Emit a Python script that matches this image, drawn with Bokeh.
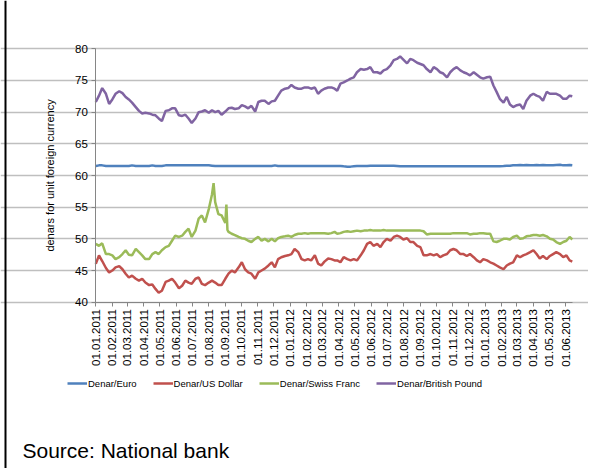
import numpy as np
import pandas as pd
from bokeh.plotting import figure
from bokeh.models import (Range1d, FixedTicker, DatetimeTickFormatter, Legend, LegendItem,
                          Label, BoxAnnotation)
from bokeh.embed import file_html
from bokeh.resources import INLINE
import math

# ---------------- data ----------------
start_date = "2011-01-01"
# sample positions (days after 01.01.2011)
days = [0, 6, 12, 19, 25, 31, 37, 44, 50, 56, 62, 68, 75, 81, 87, 93, 100, 106, 112, 118,
        124, 131, 137, 143, 149, 156, 162, 168, 174, 180, 187, 193, 199, 205, 212, 218, 224, 230, 236, 243,
        249, 255, 261, 268, 274, 280, 286, 292, 299, 305, 311, 317, 324, 330, 336, 342, 348, 355, 361, 367,
        373, 380, 386, 392, 398, 404, 411, 417, 423, 429, 436, 442, 448,
        453, 459, 465, 472, 478, 484, 490, 497, 503, 509, 515, 521, 528, 534, 540, 546, 553, 559, 565, 571,
        577, 584, 590, 596, 603, 609, 615, 621, 628, 634, 640, 646, 652, 659, 665, 671, 677, 684, 690, 696,
        702, 709, 715, 721, 727, 734, 740, 746, 752, 758, 765, 771, 777, 783, 790, 796, 802, 808, 815, 821,
        827, 833, 839, 846, 852, 858, 864, 871, 877, 883, 889, 894]

eur = [61.5, 61.6, 61.6, 61.5, 61.5, 61.5, 61.5, 61.5, 61.5, 61.5,
       61.5, 61.6, 61.5, 61.5, 61.5, 61.5, 61.5, 61.6, 61.5, 61.5,
       61.5, 61.6, 61.6, 61.6, 61.6, 61.6, 61.6, 61.6, 61.6, 61.6,
       61.6, 61.6, 61.6, 61.6, 61.6, 61.55, 61.5, 61.5, 61.5, 61.5,
       61.5, 61.5, 61.5, 61.5, 61.5, 61.5, 61.5, 61.5, 61.5, 61.5,
       61.5, 61.5, 61.5, 61.5, 61.6, 61.5, 61.5, 61.5, 61.5, 61.5,
       61.5, 61.5, 61.5, 61.5, 61.5, 61.5, 61.5, 61.5, 61.5, 61.5,
       61.5, 61.5, 61.5,
       61.5, 61.5, 61.45, 61.4, 61.4, 61.45, 61.5, 61.5, 61.5, 61.5,
       61.55, 61.55, 61.55, 61.55, 61.55, 61.55, 61.55, 61.55, 61.5, 61.45,
       61.45, 61.45, 61.45, 61.45, 61.45, 61.45, 61.45, 61.45, 61.45, 61.45,
       61.45, 61.45, 61.45, 61.45, 61.45, 61.45, 61.45, 61.45, 61.45, 61.45,
       61.45, 61.45, 61.45, 61.45, 61.45, 61.45, 61.45, 61.45, 61.45, 61.45,
       61.5, 61.55, 61.55, 61.6, 61.6, 61.65, 61.6, 61.65, 61.6, 61.6,
       61.65, 61.6, 61.65, 61.6, 61.6, 61.6, 61.65, 61.7, 61.6, 61.6,
       61.65, 61.6]

usd = [46.05, 47.4, 46.5, 45.4, 44.7, 45.0, 45.5, 45.7, 45.2, 44.5,
       43.9, 44.2, 43.7, 43.4, 43.7, 43.1, 42.7, 42.8, 42.1, 41.5,
       41.8, 43.2, 43.4, 43.7, 43.1, 42.2, 42.6, 43.4, 43.1, 42.9,
       43.7, 43.9, 42.9, 42.7, 43.1, 43.4, 43.1, 42.7, 42.7, 43.7,
       44.5, 45.0, 44.7, 45.5, 46.3, 45.2, 44.7, 44.5, 43.7, 44.7,
       45.0, 45.3, 45.8, 46.3, 45.5, 46.8, 47.1, 47.3, 47.4, 47.6,
       48.4, 47.9, 46.8, 46.6, 46.8, 46.6, 47.4, 46.1, 45.8, 46.4,
       46.9, 46.8, 46.6,
       46.6, 46.3, 47.1, 46.8, 46.6, 46.8, 46.6, 47.4, 48.2, 49.2,
       49.5, 48.9, 49.2, 48.7, 49.5, 50.0, 49.7, 50.3, 50.5, 50.3,
       49.9, 50.1, 49.5, 49.5, 48.9, 48.7, 47.4, 47.4, 47.6, 47.4,
       47.6, 47.1, 47.4, 47.6, 48.2, 48.4, 48.2, 47.6, 47.6, 47.3,
       47.6, 47.1, 46.6, 46.3, 46.8, 46.6, 46.3, 46.1, 45.8, 45.5,
       45.2, 45.8, 46.1, 46.3, 47.4, 47.1, 47.4, 47.6, 47.9, 48.2,
       47.6, 46.9, 47.3, 46.8, 47.3, 47.6, 47.9, 47.6, 47.1, 47.4,
       46.6, 46.4]

chf = [49.2, 48.9, 49.3, 47.6, 47.6, 47.4, 46.8, 47.1, 47.6, 48.2,
       47.5, 47.4, 48.4, 47.9, 47.4, 46.8, 46.8, 47.6, 47.9, 47.6,
       48.2, 48.7, 48.9, 49.7, 50.5, 50.3, 50.5, 51.1, 51.6, 50.3,
       51.3, 53.2, 53.7, 52.6, 54.7, 57.0, 55.8, 53.9, 53.7, 52.5,
       51.1, 50.8, 50.6, 50.3, 50.1, 50.0, 49.7, 49.5, 50.0, 50.3,
       49.7, 50.0, 49.6, 50.0, 49.6, 50.1, 50.3, 50.4, 50.5, 50.3,
       50.6, 50.8, 50.8, 50.9, 50.8, 50.9, 50.9, 50.9, 50.9, 50.9,
       50.8, 50.9, 51.1,
       50.8, 50.9, 51.1, 51.2, 51.1, 51.2, 51.3, 51.2, 51.3, 51.3,
       51.4, 51.3, 51.3, 51.3, 51.4, 51.3, 51.3, 51.3, 51.3, 51.3,
       51.3, 51.3, 51.3, 51.3, 51.3, 51.3, 51.2, 50.7, 50.8, 50.8,
       50.8, 50.8, 50.8, 50.8, 50.8, 50.9, 50.9, 50.9, 50.9, 50.9,
       50.7, 50.8, 50.8, 50.9, 50.9, 50.8, 50.8, 49.6, 49.5, 49.7,
       50.0, 50.0, 49.9, 50.3, 50.5, 50.0, 50.1, 50.4, 50.5, 50.6,
       50.6, 50.5, 50.6, 50.4, 50.0, 49.9, 49.5, 49.2, 49.5, 49.7,
       50.3, 49.9]
# extra franc readings at the August/September 2011 spikes
chf_extra_days = [221, 245, 247]
chf_extra_vals = [58.8, 55.4, 51.4]

gbp = [71.6, 72.6, 73.8, 72.9, 71.3, 72.0, 72.9, 73.3, 73.0, 72.4,
       72.0, 71.5, 70.8, 70.2, 69.8, 69.9, 69.8, 69.6, 69.5, 69.0,
       68.6, 70.2, 70.3, 70.6, 70.6, 69.5, 69.4, 69.6, 69.0, 68.3,
       69.0, 70.0, 70.1, 70.3, 69.9, 70.3, 70.0, 70.2, 69.6, 70.1,
       70.6, 70.7, 70.5, 70.6, 71.1, 70.9, 70.6, 71.0, 70.1, 71.6,
       71.8, 71.8, 71.3, 71.7, 71.8, 72.6, 73.4, 73.7, 73.8, 74.3,
       73.9, 73.7, 73.7, 73.9, 73.9, 73.7, 73.9, 72.9, 73.4, 73.7,
       73.9, 73.9, 73.7,
       73.4, 74.5, 74.7, 75.0, 75.3, 75.5, 76.3, 76.8, 76.7, 76.8,
       77.1, 76.3, 76.3, 76.1, 76.6, 76.8, 77.4, 78.2, 78.4, 78.8,
       78.3, 77.7, 78.4, 78.2, 77.8, 77.6, 77.4, 76.8, 76.3, 77.1,
       76.8, 76.3, 76.1, 75.5, 76.3, 76.8, 77.1, 76.6, 76.3, 76.1,
       75.8, 76.3, 75.9, 75.5, 75.3, 75.5, 75.6, 74.2, 73.2, 72.1,
       71.5, 72.4, 71.2, 70.8, 71.1, 71.2, 70.5, 71.8, 72.6, 72.9,
       72.6, 72.4, 71.8, 73.2, 72.9, 72.9, 72.9, 72.6, 72.1, 72.1,
       72.6, 72.5]

series_names = ["Denar/Euro", "Denar/US Dollar", "Denar/Swiss Franc", "Denar/British Pound"]
series_colors = ["#4F81BD", "#C0504D", "#9BBB59", "#8064A2"]
y_ticks = [40, 45, 50, 55, 60, 65, 70, 75, 80]
axis_title = "denars for unit foreign currency"
source_text = "Source: National bank"

# ---------------- layout (pixels) ----------------
W, H = 588, 468
PL, PR, PT, PB = 95.3, 572.0, 48.3, 301.7     # plot-area edges on the canvas
AXIS_END_DAY = 894.4                           # date at the right edge of the plot area
px_per_day = (PR - PL) / AXIS_END_DAY
px_per_unit = (PB - PT) / (y_ticks[-1] - y_ticks[0])

start = pd.Timestamp(start_date)


def to_dt(d):
    return start + pd.to_timedelta(np.asarray(d, dtype=float), unit="D")


def ms(ts):
    return ts.timestamp() * 1000.0


chf_df = pd.DataFrame({"d": days + chf_extra_days, "v": chf + chf_extra_vals}).sort_values("d")

series_x = [to_dt(days), to_dt(days), to_dt(chf_df["d"].values), to_dt(days)]
series_y = [eur, usd, list(chf_df["v"].values), gbp]

month_ticks = pd.date_range(start_date, "2013-06-01", freq="MS")
tick_ms = [ms(t) for t in month_ticks]

x0 = start + pd.Timedelta(days=-PL / px_per_day)
x1 = start + pd.Timedelta(days=(W - PL) / px_per_day)
y1 = y_ticks[-1] + PT / px_per_unit
y0 = y_ticks[-1] - (H - PT) / px_per_unit
plot_start_ms = ms(start)
plot_end_ms = ms(start + pd.Timedelta(days=AXIS_END_DAY))

FONT = "Liberation Sans"
p = figure(width=W, height=H, output_backend="svg", toolbar_location=None,
           x_axis_type="datetime",
           x_range=Range1d(x0, x1), y_range=Range1d(y0, y1),
           min_border=0, min_border_left=0, min_border_right=0,
           min_border_top=0, min_border_bottom=0)
p.outline_line_color = None
p.background_fill_color = "white"
p.border_fill_color = "white"

p.xgrid.visible = False
p.ygrid.ticker = FixedTicker(ticks=y_ticks)
p.ygrid.grid_line_color = "#BFBFBF"
p.ygrid.grid_line_width = 1.5
p.ygrid.bounds = (plot_start_ms, plot_end_ms)

p.yaxis.ticker = FixedTicker(ticks=y_ticks)
p.xaxis.ticker = FixedTicker(ticks=tick_ms)
fmt = "%d.%m.%Y"
p.xaxis.formatter = DatetimeTickFormatter(microseconds=fmt, milliseconds=fmt, seconds=fmt,
                                          minsec=fmt, minutes=fmt, hourmin=fmt, hours=fmt,
                                          days=fmt, months=fmt, years=fmt)
p.xaxis.fixed_location = y_ticks[0]
p.yaxis.fixed_location = plot_start_ms
p.xaxis.bounds = (plot_start_ms, plot_end_ms)
p.yaxis.bounds = (y_ticks[0], y_ticks[-1])
for ax in (p.xaxis[0], p.yaxis[0]):
    ax.axis_line_color = "#868686"
    ax.axis_line_width = 1
    ax.major_tick_line_color = "#868686"
    ax.major_tick_out = 4
    ax.major_tick_in = 0
    ax.minor_tick_line_color = None
    ax.major_label_text_font = FONT
    ax.major_label_text_font_size = "11.5px"
    ax.major_label_text_color = "#000000"

p.xaxis.major_label_orientation = math.pi / 2
p.xaxis.major_label_standoff = 3
p.yaxis.major_label_standoff = 4
p.yaxis.axis_label = axis_title
p.yaxis.axis_label_text_font = FONT
p.yaxis.axis_label_text_font_size = "11px"
p.yaxis.axis_label_text_font_style = "normal"
p.yaxis.axis_label_text_color = "#000000"
p.yaxis.axis_label_standoff = 16

renderers = []
for xs, ys, c in zip(series_x, series_y, series_colors):
    r = p.line(xs, ys, line_color=c, line_width=2.5)
    renderers.append(r)

legend = Legend(items=[LegendItem(label=n, renderers=[r]) for n, r in zip(series_names, renderers)],
                orientation="horizontal", location=(67, H - 389),
                glyph_width=20, glyph_height=12, label_height=12, label_standoff=1,
                spacing=16, padding=0, margin=0,
                label_text_font=FONT, label_text_font_size="9.5px", label_text_color="#000000",
                border_line_color=None, background_fill_alpha=0)
p.add_layout(legend)

p.add_layout(Label(x=22, y=H - 450, x_units="screen", y_units="screen", text=source_text,
                   text_font=FONT, text_font_size="21px", text_color="#000000",
                   text_baseline="alphabetic"))

p.add_layout(BoxAnnotation(left=4, right=6, bottom=0, top=H,
                           left_units="screen", right_units="screen",
                           bottom_units="screen", top_units="screen",
                           fill_color="black", fill_alpha=1, line_color=None))

open("out.html", "w").write(file_html(p, INLINE))
